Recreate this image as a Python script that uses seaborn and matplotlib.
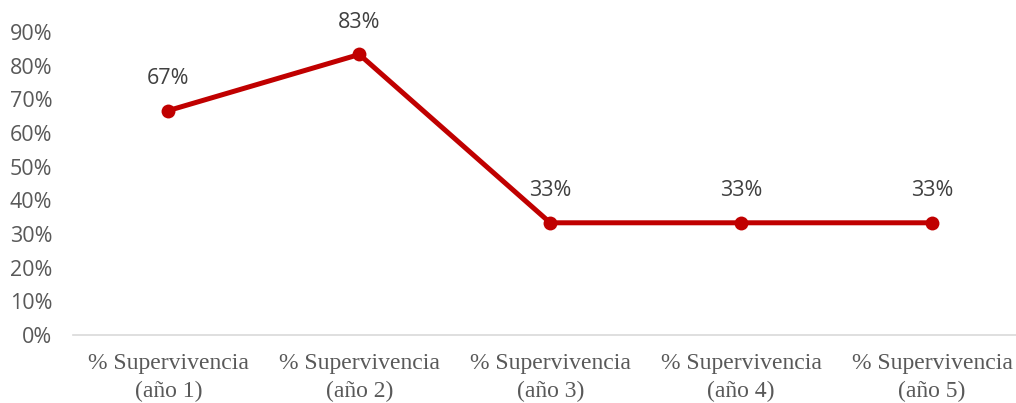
import matplotlib
matplotlib.use("Agg")
import matplotlib.pyplot as plt
import seaborn as sns
import pandas as pd
from matplotlib.ticker import PercentFormatter, MultipleLocator

# --- data ---
categories = ["% Supervivencia\n(año 1)", "% Supervivencia\n(año 2)", "% Supervivencia\n(año 3)",
              "% Supervivencia\n(año 4)", "% Supervivencia\n(año 5)"]
survival = [66.67, 83.33, 33.33, 33.33, 33.33]

df = pd.DataFrame({"cat": categories, "pct": survival})

sns.set_style("white")
plt.rcParams['font.family'] = ['Open Sans', 'DejaVu Sans']

red = "#C00000"
grey = "#595959"

fig = plt.figure(figsize=(10.16, 4.03), dpi=100)
ax = fig.add_axes([73 / 1016, 68 / 403, 943 / 1016, 303 / 403])

sns.lineplot(data=df, x="cat", y="pct", ax=ax, color=red, linewidth=3.6,
             marker="o", markersize=10, markeredgewidth=0, sort=False)

# data labels
for i, v in enumerate(survival):
    ax.annotate(f"{v:.0f}%", (i, v), xytext=(0, 23), textcoords="offset points",
                ha="center", va="center", fontsize=15.5, color="#404040")

ax.set_xlim(-0.5, 4.44)
ax.set_ylim(0, 90)
ax.yaxis.set_major_locator(MultipleLocator(10))
ax.yaxis.set_major_formatter(PercentFormatter(decimals=0))
ax.set_xlabel("")
ax.set_ylabel("")

for s in ["top", "right", "left"]:
    ax.spines[s].set_visible(False)
ax.spines["bottom"].set_color("#D9D9D9")
ax.spines["bottom"].set_linewidth(1.2)

ax.tick_params(axis="y", length=0, pad=15, labelsize=15.5, labelcolor=grey)
ax.tick_params(axis="x", length=0, pad=13, labelcolor=grey)
for lab in ax.get_xticklabels():
    lab.set_fontfamily(["Liberation Serif", "DejaVu Serif"])
    lab.set_fontsize(17)
    lab.set_linespacing(1.45)

fig.savefig("out.png", dpi=100)
